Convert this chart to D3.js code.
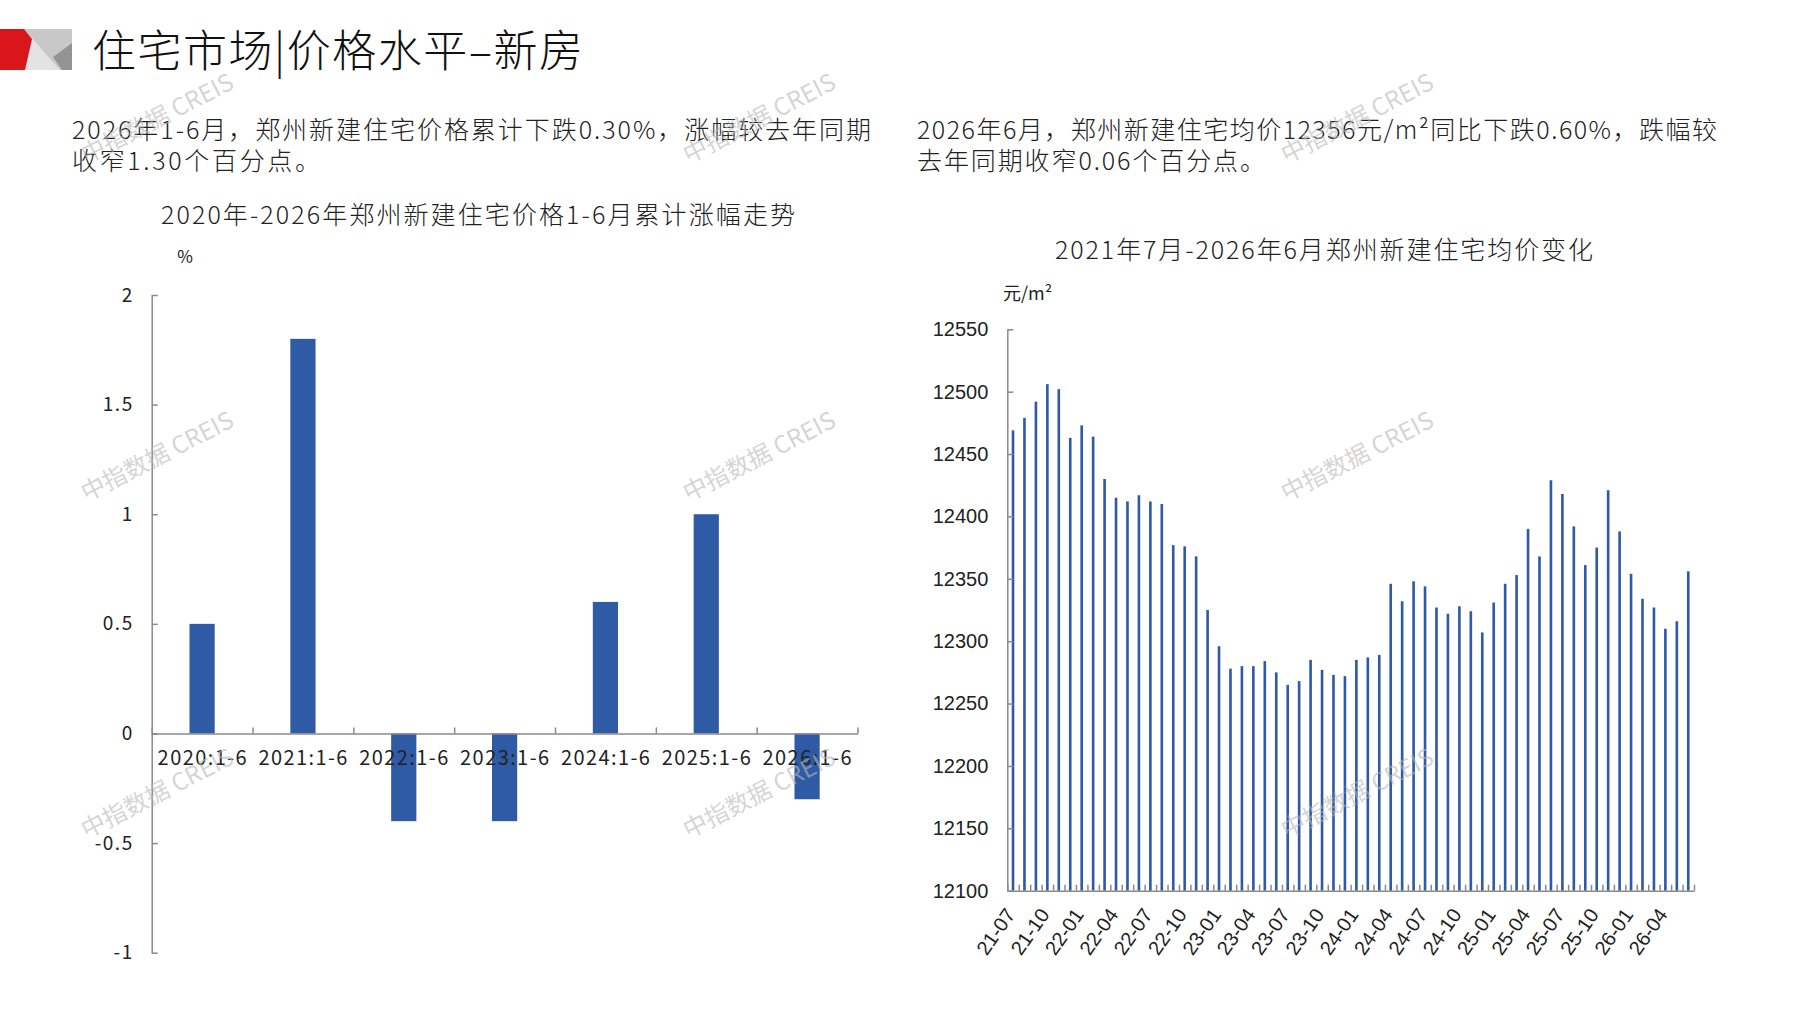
<!DOCTYPE html>
<html>
<head>
<meta charset="utf-8">
<script src="https://cdn.jsdelivr.net/npm/d3@7/dist/d3.min.js"></script>
<style>
html,body{margin:0;padding:0;background:#fff;}
svg{display:block;}
</style>
</head>
<body>
<svg id="c" width="1797" height="1010"></svg>
<script>
// ---------- DATA ----------
const pageTitle = "住宅市场|价格水平–新房";
const leftParagraph = ["2026年1-6月，郑州新建住宅价格累计下跌0.30%，涨幅较去年同期", "收窄1.30个百分点。"];
const rightParagraph = ["2026年6月，郑州新建住宅均价12356元/m²同比下跌0.60%，跌幅较", "去年同期收窄0.06个百分点。"];
const leftTitle = "2020年-2026年郑州新建住宅价格1-6月累计涨幅走势";
const rightTitle = "2021年7月-2026年6月郑州新建住宅均价变化";
const leftUnit = "%";
const rightUnit = "元/m²";
const watermark = "中指数据 CREIS";

const leftCategories = ["2020:1-6","2021:1-6","2022:1-6","2023:1-6","2024:1-6","2025:1-6","2026:1-6"];
const leftValues = [0.5, 1.8, -0.4, -0.4, 0.6, 1.0, -0.3];
const leftTicks = [-1, -0.5, 0, 0.5, 1, 1.5, 2];
const leftTickLabels = ["-1", "-0.5", "0", "0.5", "1", "1.5", "2"];

const months = [
 "21-07","21-08","21-09","21-10","21-11","21-12",
 "22-01","22-02","22-03","22-04","22-05","22-06","22-07","22-08","22-09","22-10","22-11","22-12",
 "23-01","23-02","23-03","23-04","23-05","23-06","23-07","23-08","23-09","23-10","23-11","23-12",
 "24-01","24-02","24-03","24-04","24-05","24-06","24-07","24-08","24-09","24-10","24-11","24-12",
 "25-01","25-02","25-03","25-04","25-05","25-06","25-07","25-08","25-09","25-10","25-11","25-12",
 "26-01","26-02","26-03","26-04","26-05","26-06"
];
const priceValues = [
 12469,12479,12492,12506,12502,12463,
 12473,12464,12430,12415,12412,12417,12412,12410,12377,12376,12368,12325,
 12296,12278,12280,12280,12284,12275,12265,12268,12285,12277,12273,12272,
 12285,12287,12289,12346,12332,12348,12344,12327,12322,12328,12324,12307,
 12331,12346,12353,12390,12368,12429,12418,12392,12361,12375,12421,12388,
 12354,12334,12327,12310,12316,12356
];
const priceTicks = [12100,12150,12200,12250,12300,12350,12400,12450,12500,12550];
const monthLabelStep = 3;

// ---------- STYLE ----------
const CJK = "'Noto Sans CJK SC','Noto Sans',sans-serif";
const LAT = "'Liberation Sans',Arial,sans-serif";
const BAR = "#2f5aa6";
const AXIS = "#8a8a8a";
const TXT = "#222";

const svg = d3.select("#c");

// ---------- HEADER ----------
const logo = svg.append("g");
logo.append("rect").attr("x",0).attr("y",29).attr("width",72).attr("height",41).attr("fill","#c8c8c8");
logo.append("path").attr("d","M24,29 L60,70 L25,70 Z").attr("fill","#e3e3e3");
logo.append("path").attr("d","M72,43 L72,70 L62,70 L53,57 Z").attr("fill","#939393");
logo.append("path").attr("d","M0,29 L24,29 L32,39 L25,70 L0,70 Z").attr("fill","#d9161c");

svg.append("text").attr("x",92).attr("y",67)
  .attr("font-family",CJK).attr("font-size",44).attr("font-weight",300).attr("fill","#111")
  .attr("textLength",491).attr("lengthAdjust","spacing")
  .text(pageTitle);

function para(lines, x, lens){
  lines.forEach((t,i)=>{
    svg.append("text").attr("x",x).attr("y",139+i*31)
      .attr("font-family",CJK).attr("font-size",25).attr("font-weight",300).attr("fill",TXT)
      .attr("textLength",lens[i]).attr("lengthAdjust","spacing")
      .text(t);
  });
}
para(leftParagraph, 72, [799, 248]);
para(rightParagraph, 917, [800, 348]);

svg.append("text").attr("x",478).attr("y",224).attr("text-anchor","middle")
  .attr("font-family",CJK).attr("font-size",25).attr("font-weight",300).attr("fill",TXT)
  .attr("textLength",634).attr("lengthAdjust","spacing").text(leftTitle);
svg.append("text").attr("x",1324).attr("y",259).attr("text-anchor","middle")
  .attr("font-family",CJK).attr("font-size",25).attr("font-weight",300).attr("fill",TXT)
  .attr("textLength",538).attr("lengthAdjust","spacing").text(rightTitle);

// ---------- LEFT CHART ----------
const L = {x0:151.7, x1:857.5, yTop:295, yBot:952.7};
const yL = d3.scaleLinear().domain([leftTicks[0], leftTicks[leftTicks.length-1]]).range([L.yBot, L.yTop]);
const xL = d3.scaleBand().domain(leftCategories).range([L.x0, L.x1]).paddingInner(0.75).paddingOuter(0.375);

svg.append("text").attr("x",185).attr("y",263).attr("text-anchor","middle")
  .attr("font-family",CJK).attr("font-size",17).attr("fill",TXT).text(leftUnit);

svg.append("g").selectAll("rect").data(leftValues).join("rect")
  .attr("x",(d,i)=>xL(leftCategories[i]))
  .attr("width",xL.bandwidth())
  .attr("y",d=>yL(Math.max(0,d)))
  .attr("height",d=>Math.abs(yL(d)-yL(0)))
  .attr("fill",BAR);

const gLy = svg.append("g").attr("transform",`translate(${L.x0},0)`)
  .call(d3.axisLeft(yL).tickValues(leftTicks).tickFormat((d,i)=>leftTickLabels[i])
        .tickSizeInner(-6).tickSizeOuter(0).tickPadding(18));
gLy.selectAll("text").attr("font-family",CJK).attr("font-size",19).attr("fill",TXT).attr("letter-spacing",1.5);

const xLb = d3.scaleLinear().domain([0,leftCategories.length]).range([L.x0, L.x1]);
const gLx = svg.append("g").attr("transform",`translate(0,${yL(0)})`)
  .call(d3.axisBottom(xLb).tickValues(d3.range(leftCategories.length+1)).tickFormat("")
        .tickSizeInner(-6).tickSizeOuter(0));
[gLy,gLx].forEach(g=>{g.selectAll("path,line").attr("stroke",AXIS).attr("stroke-width",1.5);});

svg.append("g").selectAll("text").data(leftCategories).join("text")
  .attr("x",d=>xL(d)+xL.bandwidth()/2).attr("y",yL(0)+32)
  .attr("text-anchor","middle").attr("font-family",CJK).attr("font-size",20).attr("fill",TXT)
  .attr("textLength",89).attr("lengthAdjust","spacing")
  .text(d=>d);

// ---------- RIGHT CHART ----------
const R = {x0:1007.3, x1:1694, yTop:329.3, yBot:890.7};
const yR = d3.scaleLinear().domain([priceTicks[0], priceTicks[priceTicks.length-1]]).range([R.yBot, R.yTop]);
const xR = d3.scaleBand().domain(months).range([R.x0, R.x1]).paddingInner(0.77).paddingOuter(0.385);

svg.append("text").attr("x",1003).attr("y",300)
  .attr("font-family",CJK).attr("font-size",18).attr("fill",TXT).text(rightUnit);

svg.append("g").selectAll("rect").data(priceValues).join("rect")
  .attr("x",(d,i)=>xR(months[i]))
  .attr("width",xR.bandwidth())
  .attr("y",d=>yR(d))
  .attr("height",d=>yR(priceTicks[0])-yR(d))
  .attr("fill",BAR);

const gRy = svg.append("g").attr("transform",`translate(${R.x0},0)`)
  .call(d3.axisLeft(yR).tickValues(priceTicks).tickFormat(d3.format("d"))
        .tickSizeInner(-6).tickSizeOuter(0).tickPadding(19));
gRy.selectAll("text").attr("font-family",LAT).attr("font-size",20).attr("fill",TXT);

const xRb = d3.scaleLinear().domain([0,months.length]).range([R.x0, R.x1]);
const gRx = svg.append("g").attr("transform",`translate(0,${R.yBot})`)
  .call(d3.axisBottom(xRb).tickValues(d3.range(months.length+1)).tickFormat("")
        .tickSizeInner(-6).tickSizeOuter(0));
[gRy,gRx].forEach(g=>{g.selectAll("path,line").attr("stroke",AXIS).attr("stroke-width",1.5);});

svg.append("g").selectAll("text").data(months.filter((m,i)=>i%monthLabelStep===0)).join("text")
  .attr("transform",d=>`translate(${xR(d)+xR.bandwidth()/2+3},${R.yBot+24}) rotate(-55)`)
  .attr("text-anchor","end").attr("font-family",LAT).attr("font-size",20).attr("fill",TXT)
  .text(d=>d);

// ---------- WATERMARKS ----------
const wmX = [158, 760, 1358];
const wmY = [120, 458, 795];
const wm = svg.append("g").attr("pointer-events","none");
wmY.forEach(y=>wmX.forEach(x=>{
  wm.append("text").attr("transform",`translate(${x},${y}) rotate(-27)`)
    .attr("text-anchor","middle").attr("dominant-baseline","middle")
    .attr("font-family",CJK).attr("font-size",24).attr("fill","#b8b8b8").attr("fill-opacity",0.6)
    .text(watermark);
}));
</script>
</body>
</html>
